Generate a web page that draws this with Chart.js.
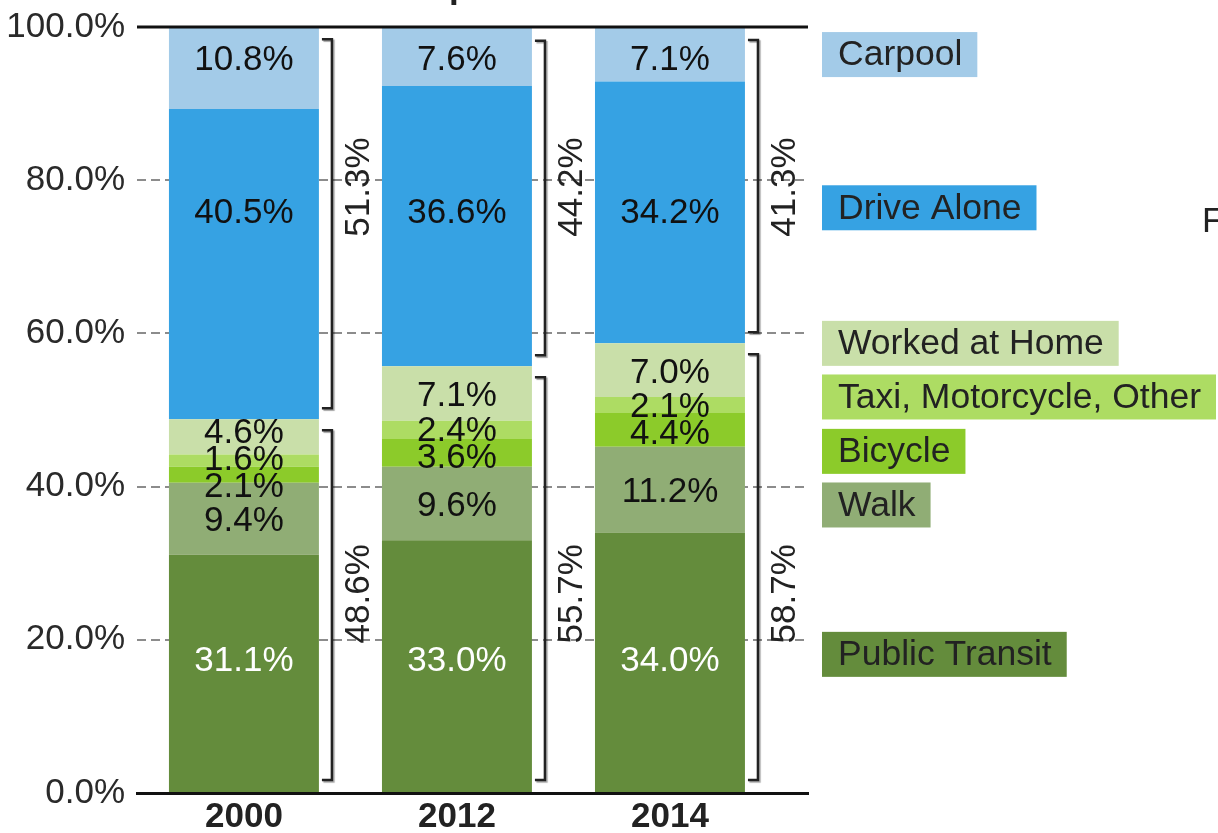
<!DOCTYPE html>
<html>
<head>
<meta charset="utf-8">
<title>Commute mode share</title>
<script src="https://cdn.jsdelivr.net/npm/chart.js@4/dist/chart.umd.min.js"></script>
<style>
    html, body { margin: 0; padding: 0; background: #fff; }
    #wrap { width: 1218px; height: 833px; position: relative; }
</style>
</head>
<body>
<div id="wrap"><canvas id="modeChart"></canvas></div>
<script>
const years = ['2000', '2012', '2014'];
const modes = ['Public Transit', 'Walk', 'Bicycle', 'Taxi, Motorcycle, Other', 'Worked at Home', 'Drive Alone', 'Carpool'];

// shares in percent, bottom of the stack first
const publicTransit = [31.1, 33.0, 34.0];
const walk = [9.4, 9.6, 11.2];
const bicycle = [2.1, 3.6, 4.4];
const taxiOther = [1.6, 2.4, 2.1];
const workedAtHome = [4.6, 7.1, 7.0];
const driveAlone = [40.5, 36.6, 34.2];
const carpool = [10.8, 7.6, 7.1];

// totals printed beside the brackets
const driveTotal = [51.3, 44.2, 41.3];
const otherTotal = [48.6, 55.7, 58.7];

const yTicks = [0, 20, 40, 60, 80, 100];

const FONT = '"Liberation Sans", Arial, Helvetica, sans-serif';
const seriesValues = [publicTransit, walk, bicycle, taxiOther, workedAtHome, driveAlone, carpool];
const seriesColors = ['#648c3c', '#90ad75', '#8ccb2a', '#addc63', '#c9dfa9', '#36a2e3', '#a3cbe8'];
// y value where the big segments put their label (null = middle of the segment)
const labelAnchors = [17.6, null, null, null, null, 76, 96];
// y value of each legend row
const legendAnchors = [18.1, 37.6, 44.6, 51.7, 58.7, 76.4, 96.4];

function spreadLabels(items, gap){
    items.sort((a, b) => a.y - b.y);
    for (let n = 0; n < 40; n++){
        for (let k = 1; k < items.length; k++){
            const d = items[k].y - items[k - 1].y;
            if (d < gap){
                const push = (gap - d) / 2;
                items[k - 1].y -= push;
                items[k].y += push;
            }
        }
    }
}

function drawBracket(ctx, x0, x1, top, bottom){
    ctx.beginPath();
    ctx.moveTo(x0, top);
    ctx.lineTo(x1, top);
    ctx.lineTo(x1, bottom);
    ctx.lineTo(x0, bottom);
    ctx.stroke();
}

const annotations = {
    id: 'annotations',
    afterDatasetsDraw(chart){
        const ctx = chart.ctx;
        const yScale = chart.scales.y;
        const area = chart.chartArea;
        const sets = chart.data.datasets;

        ctx.save();
        // solid line along 100%
        ctx.strokeStyle = '#111';
        ctx.lineWidth = 3;
        ctx.beginPath();
        ctx.moveTo(area.left, yScale.getPixelForValue(100));
        ctx.lineTo(area.right, yScale.getPixelForValue(100));
        ctx.stroke();

        ctx.font = `35px ${FONT}`;
        ctx.textAlign = 'center';
        ctx.textBaseline = 'middle';

        years.forEach((year, i) => {
            let fixed = [];
            let free = [];
            sets.forEach((ds, d) => {
                const bar = chart.getDatasetMeta(d).data[i];
                const item = {
                    text: ds.data[i].y.toFixed(1) + '%',
                    x: bar.x,
                    y: (bar.y + bar.base) / 2,
                    color: d === 0 ? '#fff' : '#111'
                };
                if (labelAnchors[d] !== null){
                    item.y = yScale.getPixelForValue(labelAnchors[d]);
                    fixed.push(item);
                } else {
                    free.push(item);
                }
            });
            spreadLabels(free, 27);
            // +3: 'middle' sits digits a little high
            fixed.concat(free).forEach(item => {
                ctx.fillStyle = item.color;
                ctx.fillText(item.text, item.x, item.y + 3);
            });

            // brackets: drive alone + carpool above, everything else below
            const topBar = chart.getDatasetMeta(sets.length - 1).data[i];
            const driveBar = chart.getDatasetMeta(5).data[i];
            const right = topBar.x + topBar.width / 2;
            const vx = right + 13;
            const boundary = driveBar.base;
            const zero = yScale.getPixelForValue(0);

            ctx.save();
            ctx.strokeStyle = '#222';
            ctx.lineWidth = 2.5;
            ctx.shadowColor = 'rgba(0,0,0,0.35)';
            ctx.shadowOffsetX = 1.5;
            ctx.shadowOffsetY = 1.5;
            ctx.shadowBlur = 1;
            drawBracket(ctx, right + 3, vx, topBar.y + 13, boundary - 11);
            drawBracket(ctx, right + 3, vx, boundary + 11, zero - 13);
            ctx.restore();

            ctx.fillStyle = '#222';
            [[driveTotal[i], 79.1], [otherTotal[i], 26]].forEach(([val, at]) => {
                ctx.save();
                ctx.translate(right + 40, yScale.getPixelForValue(at));
                ctx.rotate(-Math.PI / 2);
                ctx.fillText(val.toFixed(1) + '%', 0, 0);
                ctx.restore();
            });
        });

        // legend boxes on the right
        ctx.textAlign = 'left';
        ctx.font = `35.5px ${FONT}`;
        sets.forEach((ds, d) => {
            const cy = yScale.getPixelForValue(legendAnchors[d]);
            const w = ctx.measureText(ds.label).width;
            ctx.fillStyle = ds.backgroundColor;
            ctx.fillRect(822, cy - 22.5, w + 31, 45);
            ctx.fillStyle = '#222';
            ctx.fillText(ds.label, 838, cy + 1);
        });

        // bits of text cut off by the crop of the original picture
        ctx.textBaseline = 'alphabetic';
        ctx.font = `35px ${FONT}`;
        ctx.fillText('F', 1202, 232);
        ctx.font = `bold 35px ${FONT}`;
        ctx.fillText('p', 449, -2);
        ctx.restore();
    }
};

function buildDatasets(){
    return modes.map((mode, d) => ({
        label: mode,
        data: seriesValues[d].map((v, i) => ({ x: i, y: v })),
        backgroundColor: seriesColors[d],
        borderWidth: 0,
        categoryPercentage: 1,
        barPercentage: 0.704
    }));
}

function setGraph(){
    const config = {
        type: 'bar',
        data: { datasets: buildDatasets() },
        options: {
            responsive: true,
            maintainAspectRatio: false,
            animation: false,
            layout: { padding: { top: 27, right: 410, left: 0, bottom: 0 } },
            plugins: {
                legend: { display: false },
                tooltip: { enabled: false }
            },
            scales: {
                x: {
                    type: 'linear',
                    stacked: true,
                    min: -0.502,
                    max: 2.648,
                    offset: false,
                    afterFit: scale => {
                        scale.height = 40;
                        scale.paddingLeft = 0;
                        scale.paddingRight = 0;
                    },
                    afterBuildTicks: scale => { scale.ticks = years.map((_, i) => ({ value: i })); },
                    grid: { display: false, drawTicks: false },
                    border: { color: '#111', width: 3 },
                    ticks: {
                        autoSkip: false,
                        maxRotation: 0,
                        padding: 3,
                        color: '#222',
                        font: { family: FONT, size: 35, weight: 'bold' },
                        callback: value => years[value]
                    }
                },
                y: {
                    stacked: true,
                    min: 0,
                    max: 100,
                    afterFit: scale => {
                        scale.width = 137;
                        scale.paddingTop = 0;
                        scale.paddingBottom = 0;
                    },
                    afterBuildTicks: scale => { scale.ticks = yTicks.map(v => ({ value: v })); },
                    grid: {
                        drawTicks: false,
                        lineWidth: 2,
                        color: c => (c.tick && c.tick.value % 100 !== 0) ? '#8c8c8c' : 'rgba(0,0,0,0)'
                    },
                    border: { display: false, dash: [9, 5] },
                    ticks: {
                        padding: 12,
                        color: '#2a2a2a',
                        font: { family: FONT, size: 35 },
                        callback: value => value.toFixed(1) + '%'
                    }
                }
            }
        },
        plugins: [annotations]
    };
    const ctx = document.getElementById('modeChart').getContext('2d');
    return new Chart(ctx, config);
}

const chart = setGraph();
</script>
</body>
</html>
